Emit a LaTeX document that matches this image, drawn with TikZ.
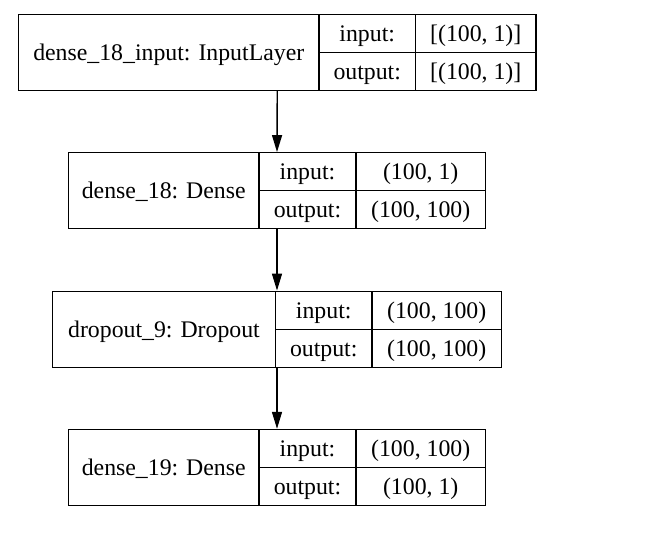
\documentclass[tikz,border=0pt]{standalone}
\usepackage{fontspec}
\setmainfont{Liberation Serif}
\usetikzlibrary{arrows.meta}

\begin{document}
\begin{tikzpicture}[x=0.5pt,y=-0.5pt,
    cell/.style={draw,line width=0.7pt,inner sep=0pt,minimum height=19pt,text height=7.9pt,text depth=0pt,font=\fontsize{11.9}{14}\selectfont},
    layerbox/.style={draw,line width=0.7pt,inner sep=0pt,minimum height=38pt},
    flow/.style={line width=0.7pt,-{Triangle[length=8.5pt,width=5pt]}}]
        \useasboundingbox (0,0) rectangle (666,538);
        % Input layer
        \node[layerbox,minimum width=258.75pt] (inp) at (277.25,52.5) {};
        \node[cell,minimum width=150.25pt,minimum height=38pt] (inplbl) at (168.75,52.5) {dense\_18\_input: InputLayer};
        \node[cell,minimum width=48.25pt] (inpin) at (367.25,33.5) {input:};
        \node[cell,minimum width=48.25pt] (inpout) at (367.25,71.5) {output:};
        \node[cell,minimum width=60.25pt] (inpinval) at (475.75,33.5) {[(100, 1)]};
        \node[cell,minimum width=60.25pt] (inpoutval) at (475.75,71.5) {[(100, 1)]};
        % First dense layer
        \node[layerbox,minimum width=208.5pt] (dns) at (277,190.75) {};
        \node[cell,minimum width=95.25pt,minimum height=38pt] (dnslbl) at (163.75,190.75) {dense\_18: Dense};
        \node[cell,minimum width=48.5pt] (dnsin) at (307.5,171.75) {input:};
        \node[cell,minimum width=48.5pt] (dnsout) at (307.5,209.75) {output:};
        \node[cell,minimum width=64.75pt] (dnsinval) at (420.75,171.75) {(100, 1)};
        \node[cell,minimum width=64.75pt] (dnsoutval) at (420.75,209.75) {(100, 100)};
        % Dropout layer
        \node[layerbox,minimum width=224.5pt] (drp) at (277,329.25) {};
        \node[cell,minimum width=111.5pt,minimum height=38pt] (drplbl) at (164,329.25) {dropout\_9: Dropout};
        \node[cell,minimum width=48.25pt] (drpin) at (323.75,310.25) {input:};
        \node[cell,minimum width=48.25pt] (drpout) at (323.75,348.25) {output:};
        \node[cell,minimum width=64.75pt] (drpinval) at (436.75,310.25) {(100, 100)};
        \node[cell,minimum width=64.75pt] (drpoutval) at (436.75,348.25) {(100, 100)};
        % Second dense layer
        \node[layerbox,minimum width=208.5pt] (dnsb) at (277,467.5) {};
        \node[cell,minimum width=95.25pt,minimum height=38pt] (dnsblbl) at (163.75,467.5) {dense\_19: Dense};
        \node[cell,minimum width=48.5pt] (dnsbin) at (307.5,448.5) {input:};
        \node[cell,minimum width=48.5pt] (dnsbout) at (307.5,486.5) {output:};
        \node[cell,minimum width=64.75pt] (dnsbinval) at (420.75,448.5) {(100, 100)};
        \node[cell,minimum width=64.75pt] (dnsboutval) at (420.75,486.5) {(100, 1)};
        % Connections
        \draw[flow] (inp.south) -- (dns.north);
        \draw[flow] (dns.south) -- (drp.north);
        \draw[flow] (drp.south) -- (dnsb.north);
    \end{tikzpicture}
\end{document}
